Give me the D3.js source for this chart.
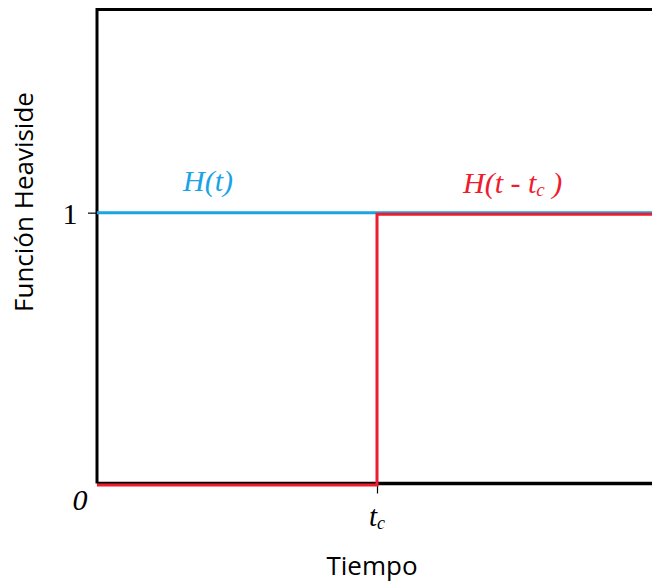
<!DOCTYPE html>
<html>
<head>
<meta charset="utf-8">
<script src="https://cdn.jsdelivr.net/npm/d3@7"></script>
<style>
  html, body { margin: 0; padding: 0; background: #fff; }
  svg { display: block; }
</style>
</head>
<body>
<script>
// Step functions: H(t) and the delayed step H(t - tc)
const tc = 1;
const tMax = 2;
const heavisidePts = [[0, 1], [tMax, 1]];
const shiftedPts = [[0, 0], [tc, 0], [tc, 1], [tMax, 1]];
const yTicks = [1];
const yTickLabels = ["1"];

const W = 652, H = 582;
const svg = d3.select("body").append("svg").attr("width", W).attr("height", H);

const x = d3.scaleLinear().domain([0, tMax]).range([97, 657]);
const y = d3.scaleLinear().domain([0, 1.75]).range([483.5, 9.5]);

const line = d3.line().x(d => x(d[0])).y(d => y(d[1]));

// frame: left and top borders, baseline
svg.append("path")
  .attr("d", `M${x(0)},${y(0)}V${y(1.75)}H${W + 5}`)
  .attr("fill", "none").attr("stroke", "#000").attr("stroke-width", 3);
svg.append("line")
  .attr("x1", x(0)).attr("x2", W + 5).attr("y1", y(0)).attr("y2", y(0))
  .attr("stroke", "#000").attr("stroke-width", 3.5);

// y tick at 1
const yAxis = d3.axisLeft(y).tickValues(yTicks).tickSize(9).tickFormat((d, i) => yTickLabels[i]);
const gy = svg.append("g").attr("transform", `translate(${x(0) + 8},0)`).call(yAxis);
gy.select(".domain").remove();
gy.selectAll(".tick line").attr("stroke", "#000").attr("stroke-width", 1.2).attr("x2", -17);
gy.selectAll(".tick text")
  .attr("x", -35).attr("dy", "0.36em").attr("text-anchor", "middle")
  .style("font-family", "'Liberation Serif', 'DejaVu Serif', serif")
  .style("font-size", "30px").attr("fill", "#000");

// x tick at tc
const xAxis = d3.axisBottom(x).tickValues([tc]).tickSize(10).tickFormat(() => "");
const gx = svg.append("g").attr("transform", `translate(0,${y(0)})`).call(xAxis);
gx.select(".domain").remove();
gx.selectAll(".tick line").attr("stroke", "#000").attr("stroke-width", 1.2);

// H(t)
svg.append("path").datum(heavisidePts)
  .attr("d", line).attr("fill", "none")
  .attr("stroke", "#1aa3e6").attr("stroke-width", 3);

// H(t - tc)
svg.append("path").datum(shiftedPts)
  .attr("d", line).attr("fill", "none")
  .attr("transform", "translate(0,1.5)")
  .attr("stroke", "#ee1c2e").attr("stroke-width", 3)
  .attr("stroke-linejoin", "miter");

const mathFont = "'Liberation Serif', 'DejaVu Serif', serif";

// series labels
svg.append("text").attr("x", 183).attr("y", 191)
  .style("font-family", mathFont).style("font-style", "italic").style("font-size", "30px")
  .attr("fill", "#1aa3e6").text("H(t)");

const lbl = svg.append("text").attr("x", 463).attr("y", 193)
  .style("font-family", mathFont).style("font-style", "italic").style("font-size", "30px")
  .attr("fill", "#ee1c2e");
lbl.append("tspan").text("H(t - t");
lbl.append("tspan").attr("font-size", "19px").attr("dy", 3).text("c");
lbl.append("tspan").attr("dy", -3).text(" )");

// axis value labels
svg.append("text").attr("x", 80).attr("y", 510).attr("text-anchor", "middle")
  .style("font-family", mathFont).style("font-style", "italic").style("font-size", "30px")
  .attr("fill", "#000").text("0");

const tcl = svg.append("text").attr("x", x(tc) - 8).attr("y", 526)
  .style("font-family", mathFont).style("font-style", "italic").style("font-size", "29px")
  .attr("fill", "#000");
tcl.append("tspan").text("t");
tcl.append("tspan").attr("font-size", "18px").attr("dy", 3).text("c");

// axis titles
svg.append("text").attr("x", 372).attr("y", 575).attr("text-anchor", "middle")
  .style("font-family", "'Open Sans', 'Noto Sans', sans-serif").style("font-size", "26px")
  .attr("fill", "#000").text("Tiempo");

svg.append("text")
  .attr("transform", "translate(33,202) rotate(-90)").attr("text-anchor", "middle")
  .style("font-family", "'Open Sans', 'Noto Sans', sans-serif").style("font-size", "26px")
  .attr("fill", "#000").text("Función Heaviside");
</script>
</body>
</html>
